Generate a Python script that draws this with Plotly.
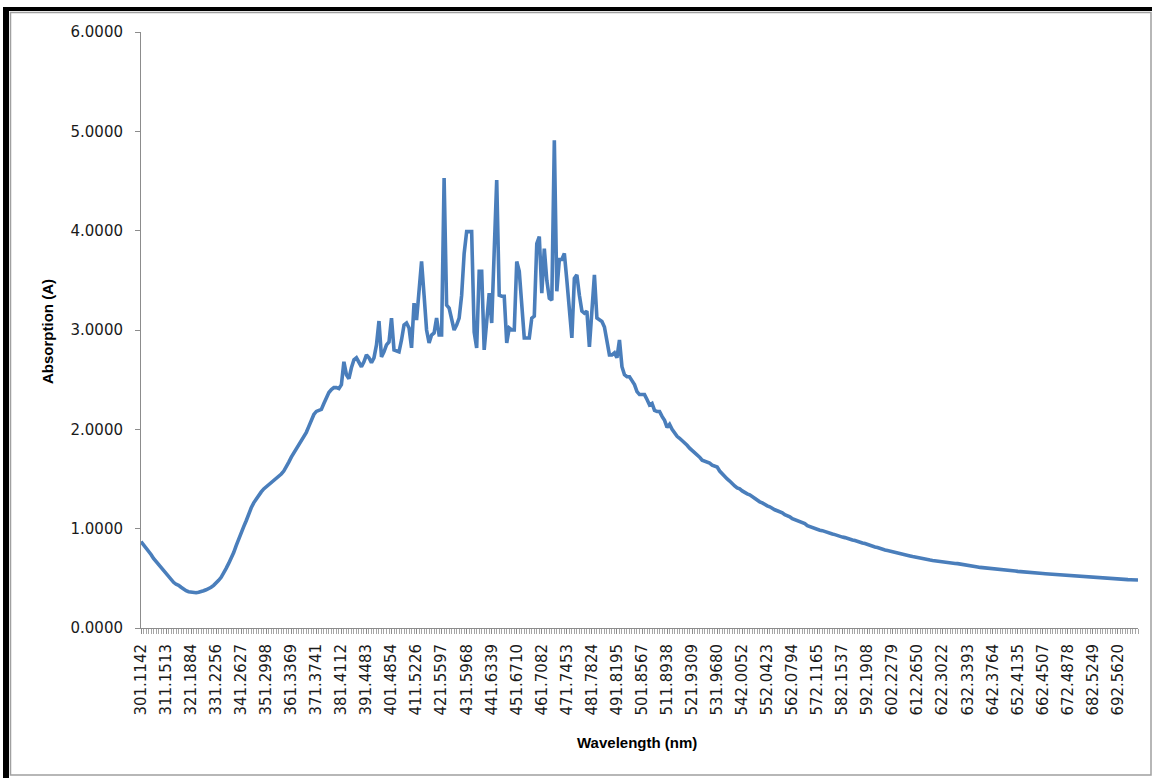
import plotly.graph_objects as go

# Wavelength tick labels (nm), one every 10 samples
wavelength_labels = [
    "301.1142", "311.1513", "321.1884", "331.2256", "341.2627", "351.2998",
    "361.3369", "371.3741", "381.4112", "391.4483", "401.4854", "411.5226",
    "421.5597", "431.5968", "441.6339", "451.6710", "461.7082", "471.7453",
    "481.7824", "491.8195", "501.8567", "511.8938", "521.9309", "531.9680",
    "542.0052", "552.0423", "562.0794", "572.1165", "582.1537", "592.1908",
    "602.2279", "612.2650", "622.3022", "632.3393", "642.3764", "652.4135",
    "662.4507", "672.4878", "682.5249", "692.5620",
]
label_every = 10

# Absorption (A) per sample, in wavelength order
absorption = [
    0.87, 0.84, 0.80, 0.77, 0.74, 0.70, 0.67, 0.64, 0.60, 0.57,
    0.54, 0.51, 0.49, 0.46, 0.44, 0.43, 0.41, 0.39, 0.375, 0.365,
    0.36, 0.355, 0.355, 0.36, 0.365, 0.375, 0.385, 0.395, 0.41, 0.43,
    0.45, 0.48, 0.51, 0.55, 0.60, 0.65, 0.70, 0.76, 0.83, 0.90,
    0.96, 1.02, 1.08, 1.15, 1.21, 1.26, 1.30, 1.34, 1.37, 1.40,
    1.42, 1.44, 1.46, 1.48, 1.50, 1.53, 1.55, 1.58, 1.62, 1.67,
    1.72, 1.76, 1.80, 1.85, 1.89, 1.93, 1.97, 2.03, 2.10, 2.15,
    2.18, 2.19, 2.20, 2.26, 2.32, 2.37, 2.40, 2.42, 2.42, 2.41,
    2.45, 2.68, 2.55, 2.51, 2.62, 2.70, 2.72, 2.68, 2.63, 2.68,
    2.75, 2.72, 2.67, 2.72, 2.85, 3.09, 2.73, 2.78, 2.85, 2.88,
    3.12, 2.80, 2.79, 2.78, 2.90, 3.05, 3.07, 3.02, 2.82, 3.27,
    3.10, 3.40, 3.69, 3.35, 3.00, 2.87, 2.95, 2.97, 3.12, 2.95,
    2.95, 4.53, 3.25, 3.22, 3.10, 3.00, 3.05, 3.12, 3.35, 3.77,
    3.99, 3.99, 3.99, 2.98, 2.82, 3.59, 3.59, 2.80, 3.10, 3.37,
    3.07, 3.70, 4.51, 3.35, 3.34, 3.34, 2.87, 3.02, 3.00, 3.00,
    3.69, 3.59, 3.20, 2.92, 2.92, 2.92, 3.12, 3.14, 3.87, 3.94,
    3.37, 3.82, 3.50, 3.32, 3.30, 4.91, 3.39, 3.71, 3.71, 3.77,
    3.50, 3.20, 2.92, 3.52, 3.555, 3.35, 3.19, 3.17, 3.19, 2.83,
    3.20, 3.555, 3.12, 3.10, 3.085, 3.03, 2.90, 2.75, 2.75, 2.77,
    2.72, 2.90, 2.63, 2.55, 2.53, 2.53, 2.49, 2.45, 2.38, 2.35,
    2.35, 2.35, 2.30, 2.245, 2.26, 2.19, 2.18, 2.18, 2.13, 2.09,
    2.02, 2.05, 2.00, 1.96, 1.93, 1.91, 1.89, 1.87, 1.84, 1.81,
    1.79, 1.77, 1.74, 1.72, 1.69, 1.68, 1.67, 1.66, 1.64, 1.63,
    1.62, 1.58, 1.55, 1.52, 1.50, 1.48, 1.45, 1.43, 1.41, 1.40,
    1.38, 1.36, 1.35, 1.34, 1.32, 1.30, 1.29, 1.27, 1.26, 1.24,
    1.23, 1.22, 1.20, 1.19, 1.18, 1.17, 1.16, 1.14, 1.13, 1.12,
    1.10, 1.09, 1.08, 1.07, 1.06, 1.05, 1.03, 1.02, 1.01, 1.00,
    0.99, 0.985, 0.98, 0.97, 0.96, 0.955, 0.947, 0.94, 0.93, 0.925,
    0.915, 0.91, 0.90, 0.895, 0.886, 0.88, 0.87, 0.865, 0.856, 0.85,
    0.84, 0.835, 0.825, 0.815, 0.81, 0.80, 0.79, 0.785, 0.78, 0.775,
    0.77, 0.765, 0.757, 0.75, 0.744, 0.738, 0.732, 0.726, 0.72, 0.714,
    0.708, 0.70, 0.696, 0.692, 0.688, 0.684, 0.68, 0.676, 0.672, 0.667,
    0.664, 0.661, 0.659, 0.656, 0.653, 0.65, 0.648, 0.645, 0.64, 0.636,
    0.632, 0.628, 0.624, 0.62, 0.615, 0.61, 0.608, 0.606, 0.603, 0.60,
    0.598, 0.596, 0.593, 0.59, 0.587, 0.584, 0.581, 0.578, 0.575, 0.573,
    0.57, 0.567, 0.565, 0.563, 0.561, 0.559, 0.557, 0.555, 0.553, 0.55,
    0.548, 0.546, 0.544, 0.542, 0.54, 0.538, 0.536, 0.534, 0.532, 0.53,
    0.528, 0.526, 0.524, 0.522, 0.52, 0.517, 0.516, 0.515, 0.514, 0.513,
    0.512, 0.511, 0.51, 0.507, 0.506, 0.504, 0.502, 0.50, 0.498, 0.496,
    0.494, 0.49, 0.489, 0.488, 0.487, 0.486, 0.485, 0.484, 0.483,
]

y_ticks = [0, 1, 2, 3, 4, 5, 6]

W, H = 1156, 778
L, R, T, B = 141, 1138, 32, 628  # plot area in pixels

sample_idx = list(range(len(absorption)))
label_pos = [k * label_every for k in range(len(wavelength_labels))]


def px(x):
    return (x - L) / (R - L)


def py(y):
    return (B - y) / (B - T)


fig = go.Figure()
fig.add_trace(go.Scatter(
    x=sample_idx, y=absorption, mode="lines",
    line=dict(color="#4A7EBB", width=3.6),
    hoverinfo="skip", showlegend=False,
))

axis_grey = "#8C8C8C"
tick_font = dict(family="DejaVu Sans", size=15, color="#1A1A1A")

fig.update_layout(
    width=W, height=H,
    margin=dict(l=L, r=W - R, t=T, b=H - B),
    paper_bgcolor="white", plot_bgcolor="white",
    xaxis=dict(
        range=[0, len(absorption) - 1],
        tickmode="array", tickvals=label_pos, ticktext=wavelength_labels,
        tickangle=-90, tickfont=tick_font, ticklabelstandoff=4,
        ticks="outside", ticklen=5, tickcolor=axis_grey, tickwidth=1,
        minor=dict(tickmode="array", tickvals=sample_idx, ticks="outside",
                   ticklen=5, tickcolor="#A6A6A6", tickwidth=1, showgrid=False),
        showline=True, linecolor=axis_grey, linewidth=1,
        showgrid=False, zeroline=False, fixedrange=True,
    ),
    yaxis=dict(
        range=[0, 6], tickmode="array", tickvals=y_ticks,
        ticktext=[f"{v:.4f}" for v in y_ticks],
        tickfont=tick_font, ticklabelstandoff=9,
        ticks="outside", ticklen=5, tickcolor=axis_grey, tickwidth=1,
        showline=True, linecolor=axis_grey, linewidth=1,
        showgrid=False, zeroline=False, fixedrange=True,
    ),
    annotations=[
        dict(text="<b>Absorption (A)</b>", xref="paper", yref="paper",
             x=px(47), y=py(332), xanchor="center", yanchor="middle",
             showarrow=False, textangle=-90,
             font=dict(family="Liberation Sans", size=15, color="black")),
        dict(text="<b>Wavelength (nm)</b>", xref="paper", yref="paper",
             x=px(637), y=py(742), xanchor="center", yanchor="middle",
             showarrow=False,
             font=dict(family="Liberation Sans", size=15, color="black")),
    ],
    shapes=[
        # outer frame: dark left/top edges, light inner border
        dict(type="rect", xref="paper", yref="paper",
             x0=px(3), x1=px(9), y0=py(778), y1=py(7),
             fillcolor="black", line=dict(width=0), layer="above"),
        dict(type="rect", xref="paper", yref="paper",
             x0=px(3), x1=px(1152), y0=py(11), y1=py(7),
             fillcolor="black", line=dict(width=0), layer="above"),
        dict(type="rect", xref="paper", yref="paper",
             x0=px(10.5), x1=px(1151), y0=py(775), y1=py(12.5),
             fillcolor="rgba(0,0,0,0)", line=dict(color="#A0A0A0", width=1.5),
             layer="above"),
    ],
)

fig.write_html("out.html")
